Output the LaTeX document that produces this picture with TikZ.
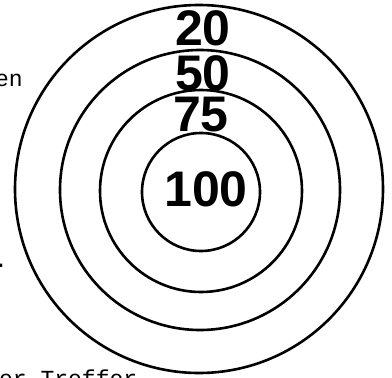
\documentclass[tikz,border=0pt]{standalone}
\usepackage{fontspec}
\setmainfont{Liberation Sans}
\setmonofont{Liberation Mono}
\begin{document}
\begin{tikzpicture}[x=1pt,y=-1pt,
        ring/.style={line width=2.6pt},
        score/.style={font=\fontsize{50}{50}\selectfont\bfseries, inner sep=0pt},
        typed/.style={font=\fontsize{23}{23}\selectfont\ttfamily, inner sep=0pt, anchor=base west}]
        \useasboundingbox (0,0) rectangle (392,378);
        % Coordinates
        \coordinate (A) at (199,189);
        \coordinate (B) at (200,190);
        \coordinate (C) at (201,191);
        \coordinate (D) at (201,192);

        % Drawing
        \draw[ring] (A) circle[radius=184pt];
        \draw[ring] (B) circle[radius=140pt];
        \draw[ring] (C) circle[radius=101pt];
        \draw[ring] (D) circle[radius=59pt];

        % Labels
        \node[score] (s20) at (203,28) {20};
        \node[score] (s50) at (203,73) {50};
        \node[score] (s75) at (201,115) {75};
        \node[score] (s100) at (206,189) {100};
        \node[typed] (t1) at (-5,86) {en};
        \node[typed] (t2) at (-6,267) {.};
        \node[typed] (t3) at (-1,386) {er Treffer};
        \end{tikzpicture}
\end{document}
